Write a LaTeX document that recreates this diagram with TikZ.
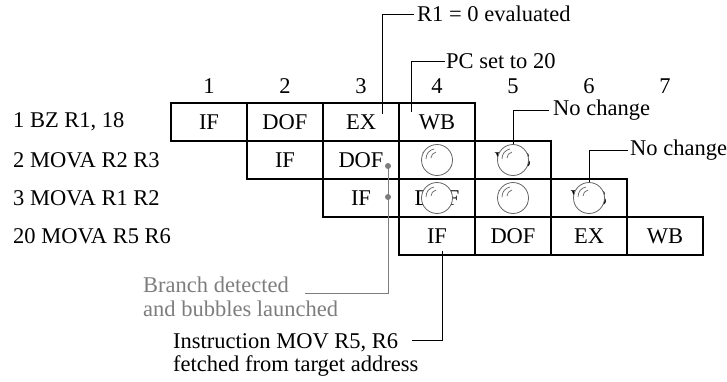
\documentclass[tikz,border=0pt]{standalone}
\usepackage{fontspec}
\setmainfont{Liberation Serif}
\usetikzlibrary{shapes.geometric}
\definecolor{bgray}{RGB}{125,125,125}
\definecolor{bubgray}{RGB}{100,100,100}
\begin{document}
\begin{tikzpicture}[x=1pt,y=-1pt,
  every node/.style={font=\fontsize{22.5}{23.5}\selectfont,inner sep=2pt},
  num/.style={inner sep=0pt},
  cell/.style={draw,line width=2pt,minimum width=76pt,minimum height=38pt,inner sep=0pt},
  bubble/.style={ellipse,draw=bubgray,fill=white,line width=0.8pt,minimum width=31pt,minimum height=31pt,inner sep=0pt},
  gdot/.style={circle,fill=bgray,minimum size=6pt,inner sep=0pt},
  call/.style={draw,line width=1pt},
  gcall/.style={draw=bgray,line width=1pt},
  hl/.style={draw=bubgray,line width=0.7pt}]
\useasboundingbox (0,0) rectangle (727,381);
% column numbers
\foreach \c/\x in {1/209,2/285,3/361,4/437,5/513,6/589,7/665}
  \node[num] (n\c) at (\x,86) {\c};
% row labels
\node[anchor=west] (l1) at (11,122) {1 BZ R1, 18};
\node[anchor=west] (l2) at (11,160) {2 MOVA R2 R3};
\node[anchor=west] (l3) at (11,198) {3 MOVA R1 R2};
\node[anchor=west] (l4) at (11,236) {20 MOVA R5 R6};
% pipeline cells
\foreach \r/\y in {1/122,2/160,3/198,4/236}{
  \foreach \s/\t in {0/IF,1/DOF,2/EX,3/WB}{
    \pgfmathtruncatemacro{\c}{\r+\s}
    \pgfmathsetmacro{\x}{209+76*(\c-1)}
    \node[cell] (r\r c\c) at (\x,\y) {\t};
  }
}
% bubbles
\foreach \n/\x/\y in {b24/437/160,b25/513/160,b34/437/198,b35/513/198,b36/589/198}{
  \node[bubble] (\n) at (\x,\y) {};
  \begin{scope}[shift={(\n.center)}]
    \draw[hl] (-11,-1) .. controls (-11,-6) and (-8,-10) .. (-3,-11);
    \draw[hl] (-6,-2) .. controls (-6,-5) and (-4,-7) .. (-1,-8);
  \end{scope}
}
% branch dots
\node[gdot] (d2) at (388,166) {};
\node[gdot] (d3) at (388,197) {};
% top callouts
\node[anchor=west,inner sep=3pt] (t1) at (414,14) {R1 = 0 evaluated};
\coordinate (e1) at (382,114);
\draw[call] (t1.west) -| (e1);
\node[anchor=west,inner sep=1pt] (t2) at (445,61) {PC set to 20};
\coordinate (e2) at (411,112);
\draw[call] (t2.west) -| (e2);
\node[anchor=west,inner sep=1pt] (t3) at (552,110) {No change};
\draw[call] ([xshift=-3pt]t3.west) -| (b25.north);
\node[anchor=west,inner sep=2pt] (t4) at (628,150) {No change};
\draw[call] (t4.west) -| (b36.north);
% bottom callouts
\node[anchor=north west,align=left,text=bgray] (t5) at (141,275) {Branch detected\\and bubbles launched};
\coordinate (e5) at (305,293);
\draw[gcall] (d2.center) |- (e5);
\node[anchor=north west,align=left] (t6) at (171,331) {Instruction MOV R5, R6\\fetched from target address};
\coordinate (e6) at (412,340);
\coordinate (f6) at (442,251);
\draw[call] (e6) -| (f6);
\end{tikzpicture}
\end{document}
